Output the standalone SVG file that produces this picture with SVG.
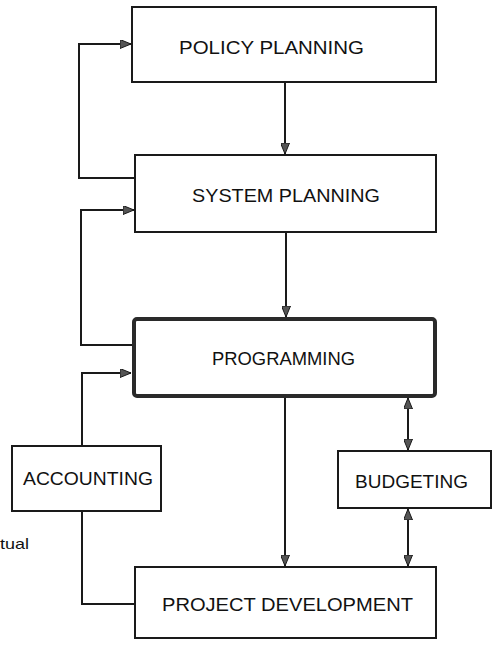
<svg xmlns="http://www.w3.org/2000/svg" width="499" height="645" viewBox="0 0 499 645">
<style>
.box{fill:#fff;stroke:#1a1a1a;stroke-width:2}
.thick{fill:#fff;stroke:#2a2a2a;stroke-width:4}
.lbl{font-family:"Liberation Sans",Arial,sans-serif;font-size:19px;fill:#111}
.con{fill:none;stroke:#1a1a1a;stroke-width:2}
</style>
<defs>
<marker id="ah" viewBox="0 0 11 9" refX="11" refY="4.5" markerWidth="11" markerHeight="9" markerUnits="userSpaceOnUse" orient="auto-start-reverse">
<path d="M0,0 L11,4.5 L0,9 Z" fill="#555" stroke="#1a1a1a" stroke-width="1"/>
</marker>
</defs>
<rect width="499" height="645" fill="#fff"/>
<g id="connectors">
<line class="con" x1="285" y1="82" x2="285" y2="154" marker-end="url(#ah)"/>
<polyline class="con" points="134,178 79,178 79,44 131,44" marker-end="url(#ah)"/>
<line class="con" x1="286" y1="232" x2="286" y2="317" marker-end="url(#ah)"/>
<polyline class="con" points="133,345 81,345 81,210 134,210" marker-end="url(#ah)"/>
<polyline class="con" points="82,446 82,373 131,373" marker-end="url(#ah)"/>
<polyline class="con" points="82,511 82,604 135,604"/>
<line class="con" x1="285" y1="397" x2="285" y2="566" marker-end="url(#ah)"/>
<line class="con" x1="408" y1="398" x2="408" y2="450" marker-start="url(#ah)" marker-end="url(#ah)"/>
<line class="con" x1="408" y1="509" x2="408" y2="566" marker-start="url(#ah)" marker-end="url(#ah)"/>
</g>
<g id="policy">
<rect class="box" x="132" y="7" width="304" height="75"/>
<text class="lbl" x="179" y="54" textLength="185" lengthAdjust="spacingAndGlyphs">POLICY PLANNING</text>
</g>
<g id="system">
<rect class="box" x="135" y="155" width="301" height="77"/>
<text class="lbl" x="192" y="202" textLength="188" lengthAdjust="spacingAndGlyphs">SYSTEM PLANNING</text>
</g>
<g id="programming">
<rect class="thick" x="134" y="319" width="301" height="77" rx="3"/>
<text class="lbl" x="212" y="365" textLength="143" lengthAdjust="spacingAndGlyphs">PROGRAMMING</text>
</g>
<g id="accounting">
<rect class="box" x="12" y="446" width="149" height="65"/>
<text class="lbl" x="23" y="485" textLength="130" lengthAdjust="spacingAndGlyphs">ACCOUNTING</text>
</g>
<g id="budgeting">
<rect class="box" x="338" y="451" width="153" height="57"/>
<text class="lbl" x="355" y="488" textLength="113" lengthAdjust="spacingAndGlyphs">BUDGETING</text>
</g>
<g id="project">
<rect class="box" x="135" y="567" width="301" height="71"/>
<text class="lbl" x="162" y="611" textLength="251" lengthAdjust="spacingAndGlyphs">PROJECT DEVELOPMENT</text>
</g>
<text x="0" y="549" font-family="'Liberation Sans',Arial,sans-serif" font-size="15" fill="#111" textLength="29" lengthAdjust="spacingAndGlyphs">tual</text>
</svg>
